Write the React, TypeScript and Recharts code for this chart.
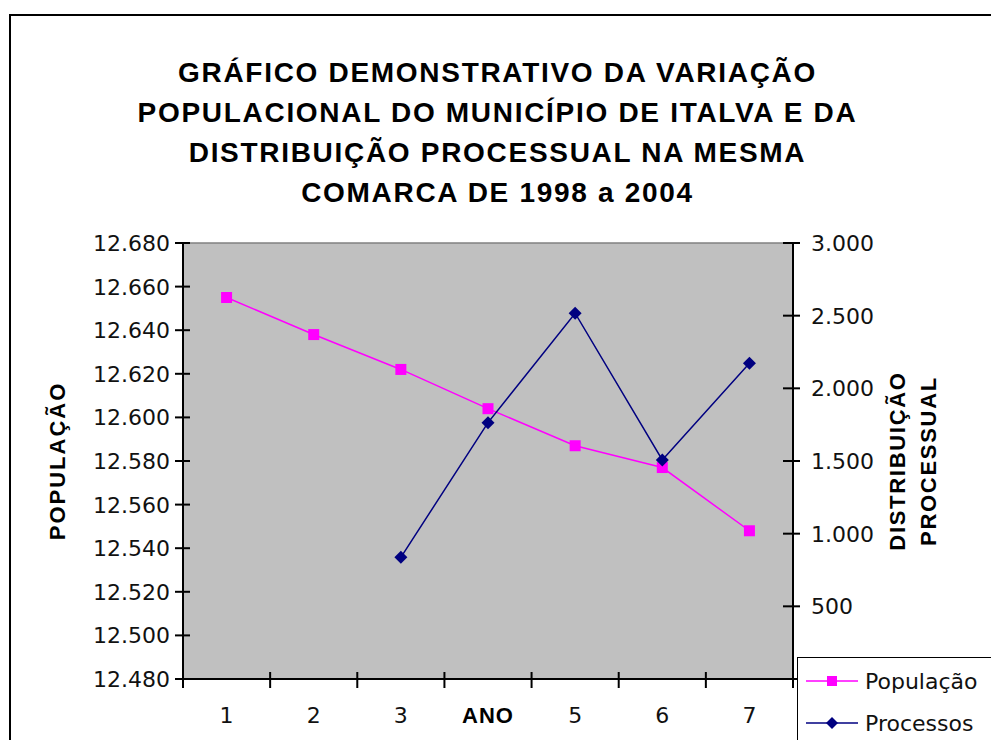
import { ComposedChart, Line, XAxis, YAxis, CartesianGrid, ReferenceLine, Legend, Label } from "recharts";

const anos = [1, 2, 3, 4, 5, 6, 7];
const populacao = [12655, 12638, 12622, 12604, 12587, 12577, 12548];
const processos = [null, null, 837, 1764, 2517, 1507, 2173];
const xTicks = [0.5, 1, 1.5, 2, 2.5, 3, 3.5, 4, 4.5, 5, 5.5, 6, 6.5, 7, 7.5];
// the "4" sits under the axis title "ANO" in the original
const xLabels: Record<number, string> = { 1: "1", 2: "2", 3: "3", 4: "", 5: "5", 6: "6", 7: "7" };
const popTicks = [12480, 12500, 12520, 12540, 12560, 12580, 12600, 12620, 12640, 12660, 12680];
const procTicks = [0, 500, 1000, 1500, 2000, 2500, 3000];
const titulo = [
  "GRÁFICO DEMONSTRATIVO DA VARIAÇÃO",
  "POPULACIONAL DO MUNICÍPIO DE ITALVA E DA",
  "DISTRIBUIÇÃO PROCESSUAL NA MESMA",
  "COMARCA DE 1998 a 2004",
];

const data = anos.map((ano, i) => ({ ano, populacao: populacao[i], processos: processos[i] }));

const fmt = (n: number) => String(n).replace(/\B(?=(\d{3})+(?!\d))/g, ".");

const tickFont = { fontFamily: "DejaVu Sans", fontSize: 22, fill: "#111" };
const boldFont = "'Liberation Sans', Arial, sans-serif";

const LeftTick = (props: any) => {
  const { x, y, payload } = props;
  return (
    <g>
      <line x1={x + 5} x2={x + 20} y1={y} y2={y} stroke="#000" strokeWidth={2} />
      <text x={x} y={y} dy="0.36em" textAnchor="end" {...tickFont}>
        {fmt(payload.value)}
      </text>
    </g>
  );
};

const RightTick = (props: any) => {
  const { x, y, payload } = props;
  return (
    <g>
      <line x1={x - 28} x2={x - 11} y1={y} y2={y} stroke="#000" strokeWidth={2} />
      <text x={x} y={y} dy="0.36em" textAnchor="start" {...tickFont}>
        {fmt(payload.value)}
      </text>
    </g>
  );
};

const BottomTick = (props: any) => {
  const { x, y, payload } = props;
  if (!Number.isInteger(payload.value)) {
    return <line x1={x} x2={x} y1={y - 43} y2={y - 27} stroke="#000" strokeWidth={2} />;
  }
  const label = xLabels[payload.value];
  if (!label) return <g />;
  return (
    <text x={x} y={y} dy="0.36em" textAnchor="middle" {...tickFont}>
      {label}
    </text>
  );
};

const SquareDot = (props: any) => {
  const { cx, cy, index } = props;
  if (cx == null || cy == null) return <g key={index} />;
  return <rect key={index} x={cx - 5.5} y={cy - 5.5} width={11} height={11} fill="#FF00FF" />;
};

const DiamondDot = (props: any) => {
  const { cx, cy, index } = props;
  if (cx == null || cy == null) return <g key={index} />;
  const r = 6.5;
  return (
    <polygon
      key={index}
      points={`${cx},${cy - r} ${cx + r},${cy} ${cx},${cy + r} ${cx - r},${cy}`}
      fill="#000080"
    />
  );
};

const LegendBox = (props: any) => {
  const { payload } = props;
  return (
    <div style={{ border: "1px solid #000", background: "#fff", paddingTop: 2, height: 120 }}>
      {(payload || []).map((entry: any) => (
        <div key={entry.value} style={{ display: "flex", alignItems: "center", height: 42 }}>
          <svg width={52} height={14} style={{ marginLeft: 8, marginRight: 7 }}>
            <line x1={0} x2={52} y1={7} y2={7} stroke={entry.color} strokeWidth={1.5} />
            {entry.dataKey === "populacao" ? (
              <rect x={21} y={2} width={10} height={10} fill={entry.color} />
            ) : (
              <polygon points="26,1 32,7 26,13 20,7" fill={entry.color} />
            )}
          </svg>
          <span style={{ fontFamily: "DejaVu Sans", fontSize: 22, color: "#111", whiteSpace: "nowrap" }}>
            {entry.value}
          </span>
        </div>
      ))}
    </div>
  );
};

const LeftTitle = (props: any) => {
  const vb = props.viewBox;
  const cx = vb.x + 57;
  const cy = vb.y + vb.height / 2;
  return (
    <text
      x={cx}
      y={cy}
      dy="0.36em"
      textAnchor="middle"
      transform={`rotate(-90, ${cx}, ${cy})`}
      fontFamily={boldFont}
      fontWeight="bold"
      fontSize={22}
      letterSpacing={2}
      fill="#000"
    >
      POPULAÇÃO
    </text>
  );
};

const RightTitle = (props: any) => {
  const vb = props.viewBox;
  const cy = vb.y + vb.height / 2;
  const lines = ["DISTRIBUIÇÃO", "PROCESSUAL"];
  return (
    <g>
      {lines.map((t, i) => {
        const cx = vb.x + 104 + i * 31;
        return (
          <text
            key={t}
            x={cx}
            y={cy}
            dy="0.36em"
            textAnchor="middle"
            transform={`rotate(-90, ${cx}, ${cy})`}
            fontFamily={boldFont}
            fontWeight="bold"
            fontSize={22}
            letterSpacing={1.7}
            fill="#000"
          >
            {t}
          </text>
        );
      })}
    </g>
  );
};

const AnoTitle = (props: any) => {
  const vb = props.viewBox;
  return (
    <text
      x={vb.x + vb.width / 2}
      y={vb.y + 36}
      dy="0.36em"
      textAnchor="middle"
      fontFamily={boldFont}
      fontWeight="bold"
      fontSize={22}
      letterSpacing={1}
      fill="#000"
    >
      ANO
    </text>
  );
};

export default function App() {
  return (
    <div style={{ position: "absolute", left: 0, top: 0, width: 991, height: 740, overflow: "hidden", background: "#fff" }}>
      <div
        style={{
          position: "absolute",
          left: 9,
          top: 14,
          width: 1100,
          height: 900,
          border: "2px solid #000",
        }}
      />
      <div style={{ position: "absolute", left: 0, top: 0 }}>
        <ComposedChart width={991} height={740} data={data} margin={{ top: 243, right: 0, bottom: 0, left: 0 }}>
          <CartesianGrid yAxisId="pop" fill="#C0C0C0" horizontal={false} vertical={false} />
          <XAxis
            type="number"
            dataKey="ano"
            domain={[0.5, 7.5]}
            ticks={xTicks}
            interval={0}
            height={61}
            tickLine={false}
            tickSize={8}
            tickMargin={28}
            axisLine={{ stroke: "#000", strokeWidth: 2 }}
            tick={<BottomTick />}
          >
            <Label content={<AnoTitle />} />
          </XAxis>
          <YAxis
            yAxisId="pop"
            orientation="left"
            width={183}
            domain={[12480, 12680]}
            ticks={popTicks}
            interval={0}
            tickLine={false}
            tickSize={8}
            tickMargin={5}
            axisLine={{ stroke: "#000", strokeWidth: 2 }}
            tick={<LeftTick />}
          >
            <Label content={<LeftTitle />} />
          </YAxis>
          <YAxis
            yAxisId="proc"
            orientation="right"
            width={198}
            domain={[0, 3000]}
            ticks={procTicks}
            interval={0}
            tickLine={false}
            tickSize={8}
            tickMargin={10}
            axisLine={{ stroke: "#000", strokeWidth: 2 }}
            tick={<RightTick />}
          >
            <Label content={<RightTitle />} />
          </YAxis>
          <ReferenceLine yAxisId="pop" y={12680} stroke="#808080" strokeWidth={1.5} />
          <Line
            yAxisId="pop"
            dataKey="populacao"
            name="População"
            stroke="#FF00FF"
            strokeWidth={1.5}
            dot={SquareDot}
            activeDot={false}
            isAnimationActive={false}
          />
          <Line
            yAxisId="proc"
            dataKey="processos"
            name="Processos"
            stroke="#000080"
            strokeWidth={1.5}
            dot={DiamondDot}
            activeDot={false}
            isAnimationActive={false}
          />
          <Legend
            layout="vertical"
            align="center"
            verticalAlign="middle"
            wrapperStyle={{ left: 797, top: 657, width: 230 }}
            content={<LegendBox />}
          />
        </ComposedChart>
      </div>
      <div
        style={{
          position: "absolute",
          left: 0,
          top: 53,
          width: 995,
          textAlign: "center",
          fontFamily: boldFont,
          fontWeight: "bold",
          fontSize: 28,
          letterSpacing: 1.7,
          lineHeight: "40px",
          color: "#000",
          pointerEvents: "none",
        }}
      >
        {titulo.map((t) => (
          <div key={t}>{t}</div>
        ))}
      </div>
    </div>
  );
}
